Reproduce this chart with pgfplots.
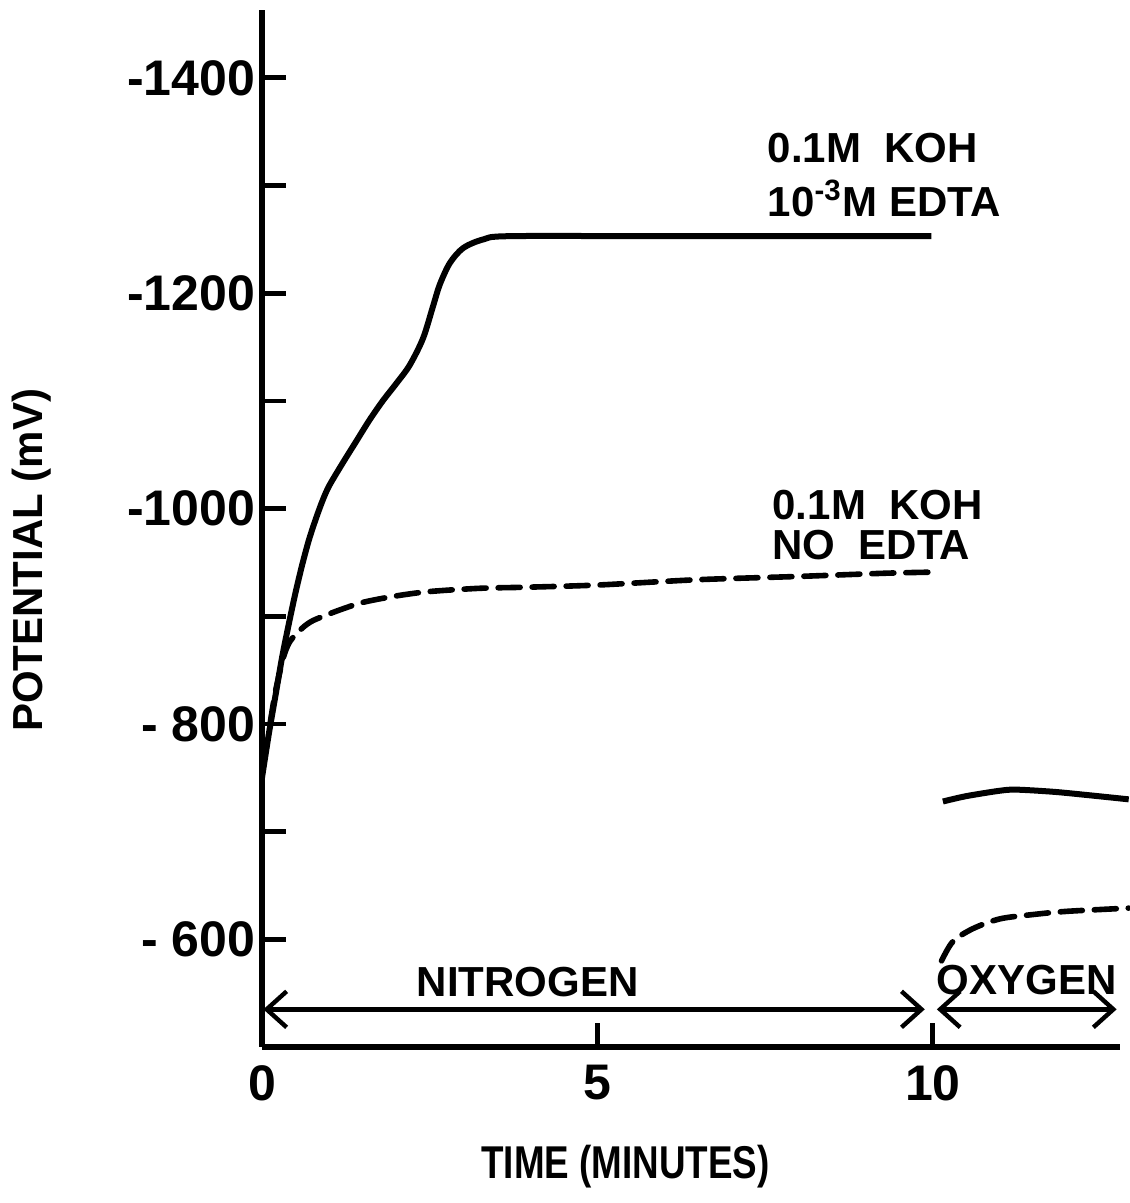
\documentclass[border=0pt]{standalone}
\usepackage{fontspec}
\setmainfont{Liberation Sans}
\usepackage{pgfplots}
\pgfplotsset{compat=1.18}
\usetikzlibrary{arrows.meta}
\begin{document}
\begin{tikzpicture}[font=\bfseries]
\begin{axis}[
  scale only axis, width=214.5pt, height=259.25pt,
  xmin=0, xmax=12.79, ymin=-1463, ymax=-500, y dir=reverse,
  axis x line=bottom, axis y line=left,
  axis line style={-, line width=1.3pt},
  tick align=inside,
  major tick length=6pt,
  tick style={line width=1.2pt, black},
  xtick={0,5,10}, xticklabels={0,5,10},
  ytick={-1400,-1300,-1200,-1100,-1000,-900,-800,-700,-600},
  yticklabels={-1400,,-1200,,-1000,,- 800,,- 600},
  tick label style={font=\bfseries\fontsize{12.5}{14}\selectfont},
  xticklabel style={yshift=-1pt},
  yticklabel style={xshift=1.8pt},
  clip=false,
]
% 0.1M KOH + 10^-3 M EDTA, nitrogen
\addplot[black, line width=1.5pt, smooth, tension=0.5] coordinates {
 (0,-750) (0.1,-790) (0.2,-826) (0.3,-862) (0.4,-893) (0.5,-922)
 (0.6,-948) (0.7,-971) (0.8,-990) (0.9,-1007) (1.0,-1021) (1.2,-1042)
 (1.4,-1062) (1.6,-1082) (1.8,-1100) (2.0,-1116) (2.2,-1133) (2.4,-1158)
 (2.55,-1188) (2.65,-1208) (2.8,-1228) (3.0,-1242) (3.3,-1250) (3.7,-1253)
 (6.0,-1253) (9.98,-1253)
};
% 0.1M KOH no EDTA, nitrogen
\addplot[black, line width=1.4pt, line cap=round, dash pattern=on 5.5pt off 3pt, smooth, tension=0.45] coordinates {
 (0.12,-800) (0.2,-830) (0.32,-862) (0.42,-877) (0.6,-889) (0.76,-896)
 (1.12,-905) (1.51,-913) (2.01,-919) (2.50,-923) (3.25,-926) (3.95,-927)
 (5.0,-929) (6.5,-934) (8.0,-937) (9.3,-940) (10.0,-941)
};
% oxygen, with EDTA
\addplot[black, line width=1.5pt, smooth] coordinates {
 (10.15,-728) (10.5,-733) (11.0,-738) (11.25,-739) (11.8,-737) (12.3,-734) (12.92,-730)
};
% oxygen, no EDTA
\addplot[black, line width=1.4pt, line cap=round, dash pattern=on 5.5pt off 3pt, smooth] coordinates {
 (10.13,-580) (10.30,-598) (10.60,-610) (11.0,-619) (11.49,-623) (12.0,-626) (12.92,-629)
};
\draw[{Straight Barb[length=5pt,width=9pt]}-{Straight Barb[length=5pt,width=9pt]}, line width=1.1pt]
  (axis cs:0.02,-535) -- (axis cs:9.88,-535);
\draw[{Straight Barb[length=5pt,width=9pt]}-{Straight Barb[length=5pt,width=9pt]}, line width=1.1pt]
  (axis cs:10.06,-535) -- (axis cs:12.74,-535);
\begin{scope}[every node/.style={font=\bfseries\fontsize{10.5}{12}\selectfont, inner sep=0pt}]
\node[anchor=west] at (axis cs:7.53,-1335) {0.1M\ \ KOH};
\node[anchor=west] at (axis cs:7.53,-1288) {10\textsuperscript{-3}M EDTA};
\node[anchor=west] at (axis cs:7.6,-1003) {0.1M\ \ KOH};
\node[anchor=west] at (axis cs:7.6,-966) {NO\ \ EDTA};
\node at (axis cs:3.96,-560) {NITROGEN};
\node at (axis cs:11.4,-562) {OXYGEN};
\end{scope}
\node[rotate=90, font=\bfseries\fontsize{10.5}{12}\selectfont] at (axis cs:-3.43,-952) {POTENTIAL (mV)};
\node[xscale=0.8, font=\bfseries\fontsize{11.5}{12}\selectfont] at (axis cs:5.42,-389) {TIME (MINUTES)};
\end{axis}
\pgfresetboundingbox
\path[use as bounding box] (-65.5pt,-39pt) rectangle (216.75pt,261.75pt);
\end{tikzpicture}
\end{document}
